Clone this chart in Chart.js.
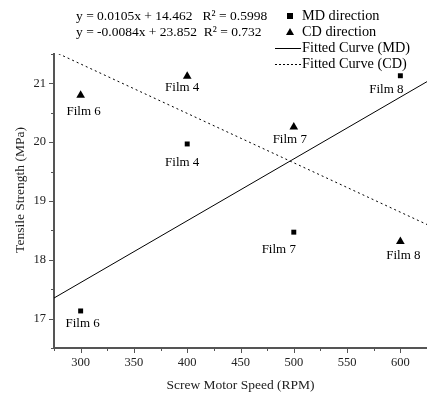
<!DOCTYPE html>
<html>
<head>
<meta charset="utf-8">
<script src="https://cdn.jsdelivr.net/npm/chart.js@4/dist/chart.umd.min.js"></script>
<style>
    html, body { margin: 0; padding: 0; background: #fff; }
    #wrap { width: 427px; height: 396px; }
</style>
</head>
<body>
<div id="wrap"><canvas id="c"></canvas></div>
<script>
// data
const speeds = [300, 400, 500, 600];
const films = ['Film 6', 'Film 4', 'Film 7', 'Film 8'];
const mdStrength = [17.13, 19.97, 18.47, 21.13];
const cdStrength = [20.80, 21.12, 20.26, 18.31];
const fitX = [275, 625];
const mdFit = [17.35, 21.03];
const cdFit = [21.54, 18.60];
const xTicks = [300, 350, 400, 450, 500, 550, 600];
const yTicks = [17, 18, 19, 20, 21];
const equations = ['y = 0.0105x + 14.462   R\u00b2 = 0.5998', 'y = -0.0084x + 23.852  R\u00b2 = 0.732'];
const legendItems = ['MD direction', 'CD direction', 'Fitted Curve (MD)', 'Fitted Curve (CD)'];

const serif = '"Liberation Serif", "DejaVu Serif", serif';
const axisColor = '#555';

// label offsets for the film names (px from the point)
const mdLabelOff = [[2, 13], [-5, 19], [-15, 17], [-14, 14]];
const cdLabelOff = [[3, 16], [-5, 11], [-4, 13], [3, 14]];

function pts(xs, ys) {
    return xs.map(function (x, i) { return { x: x, y: ys[i] }; });
}

const overlay = {
    id: 'overlay',
    afterDraw: function (chart) {
        const c = chart.ctx;
        const xs = chart.scales.x, ys = chart.scales.y;
        const area = chart.chartArea;
        c.save();

        // tick marks (major + minor), outside
        c.strokeStyle = axisColor;
        c.lineWidth = 1;
        for (let v = 275; v <= 625; v += 25) {
            const px = Math.round(xs.getPixelForValue(v)) + 0.5;
            const len = (v % 50 === 0) ? 5 : 3;
            c.beginPath(); c.moveTo(px, area.bottom); c.lineTo(px, area.bottom + len); c.stroke();
        }
        for (let v = 16.5; v <= 21.5; v += 0.5) {
            const py = Math.round(ys.getPixelForValue(v)) + 0.5;
            const len = (Math.abs(v - Math.round(v)) < 0.01) ? 5 : 3;
            c.beginPath(); c.moveTo(area.left, py); c.lineTo(area.left - len, py); c.stroke();
        }

        // y axis title
        c.fillStyle = '#222';
        c.font = '13.5px ' + serif;
        c.textAlign = 'center';
        c.textBaseline = 'middle';
        c.save();
        c.translate(20, 190);
        c.rotate(-Math.PI / 2);
        c.fillText('Tensile Strength (MPa)', 0, 0);
        c.restore();

        // film labels
        c.fillStyle = '#000';
        c.font = '13px ' + serif;
        speeds.forEach(function (s, i) {
            const px = xs.getPixelForValue(s);
            c.fillText(films[i], px + mdLabelOff[i][0], ys.getPixelForValue(mdStrength[i]) + mdLabelOff[i][1]);
            c.fillText(films[i], px + cdLabelOff[i][0], ys.getPixelForValue(cdStrength[i]) + cdLabelOff[i][1]);
        });

        // equations
        c.textAlign = 'left';
        c.font = '13.5px ' + serif;
        c.fillText(equations[0], 76, 16);
        c.fillText(equations[1], 76, 32);

        // legend
        const lx = 290, tx = 302;
        c.font = '14.3px ' + serif;
        legendItems.forEach(function (t, i) {
            const y = 16 + i * 16;
            c.fillStyle = '#000';
            c.strokeStyle = '#000';
            c.lineWidth = 1;
            if (i === 0) {
                c.fillRect(lx - 3, y - 3, 6, 6);
            } else if (i === 1) {
                c.beginPath(); c.moveTo(lx, y - 4); c.lineTo(lx + 4, y + 3); c.lineTo(lx - 4, y + 3); c.closePath(); c.fill();
            } else {
                c.setLineDash(i === 3 ? [2, 2] : []);
                c.beginPath(); c.moveTo(275, y + 0.5); c.lineTo(301, y + 0.5); c.stroke();
                c.setLineDash([]);
            }
            c.fillText(t, tx, y);
        });
        c.restore();
    }
};

new Chart(document.getElementById('c'), {
    type: 'scatter',
    data: {
        datasets: [
            {
                label: 'MD direction',
                data: pts(speeds, mdStrength),
                pointStyle: 'rect',
                pointRadius: 3.5,
                backgroundColor: '#000',
                borderColor: '#000',
                borderWidth: 0
            },
            {
                label: 'CD direction',
                data: pts(speeds, cdStrength),
                pointStyle: 'triangle',
                pointRadius: 5,
                backgroundColor: '#000',
                borderColor: '#000',
                borderWidth: 0
            },
            {
                label: 'Fitted Curve (MD)',
                type: 'line',
                data: pts(fitX, mdFit),
                borderColor: '#000',
                borderWidth: 1,
                pointRadius: 0,
                fill: false
            },
            {
                label: 'Fitted Curve (CD)',
                type: 'line',
                data: pts(fitX, cdFit),
                borderColor: '#000',
                borderWidth: 1,
                borderDash: [2, 3],
                pointRadius: 0,
                fill: false
            }
        ]
    },
    options: {
        responsive: true,
        maintainAspectRatio: false,
        animation: false,
        layout: { autoPadding: false, padding: { top: 54, right: 0, left: 0, bottom: 0 } },
        plugins: {
            legend: { display: false },
            tooltip: { enabled: false }
        },
        scales: {
            x: {
                type: 'linear',
                min: 275,
                max: 625,
                afterBuildTicks: function (s) {
                    s.ticks = xTicks.map(function (v) { return { value: v }; });
                },
                afterFit: function (s) {
                    s.height = 48;
                    s.paddingLeft = 0;
                    s.paddingRight = 0;
                },
                grid: { display: false, drawTicks: false },
                border: { display: true, color: axisColor, width: 2 },
                ticks: {
                    color: '#222',
                    padding: 7,
                    maxRotation: 0,
                    font: { family: serif, size: 12.5 }
                },
                title: {
                    display: true,
                    text: 'Screw Motor Speed (RPM)',
                    color: '#222',
                    padding: { top: 4, bottom: 2 },
                    font: { family: serif, size: 13.5 }
                }
            },
            y: {
                type: 'linear',
                min: 16.5,
                max: 21.5,
                afterBuildTicks: function (s) {
                    s.ticks = yTicks.map(function (v) { return { value: v }; });
                },
                afterFit: function (s) {
                    s.width = 54;
                    s.paddingTop = 0;
                    s.paddingBottom = 0;
                },
                grid: { display: false, drawTicks: false },
                border: { display: true, color: axisColor, width: 2 },
                ticks: {
                    color: '#222',
                    padding: 8,
                    font: { family: serif, size: 12.5 }
                }
            }
        }
    },
    plugins: [overlay]
});
</script>
</body>
</html>
